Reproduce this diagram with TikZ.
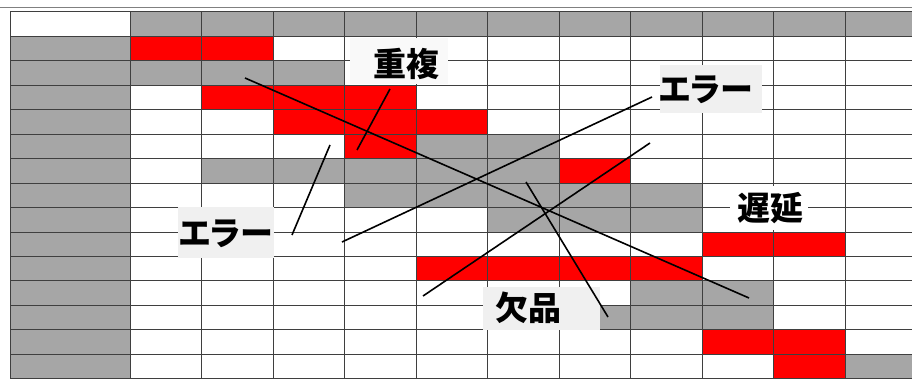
\documentclass[tikz,border=0pt]{standalone}
\usepackage{fontspec}
\newfontfamily\jpfont[RawFeature={+palt}]{Noto Sans CJK JP}
\definecolor{cellgray}{HTML}{A6A6A6}
\definecolor{cellred}{HTML}{FF0000}
\definecolor{gridline}{HTML}{3F3F3F}
\definecolor{labelbg}{HTML}{F0F0F0}
\newcommand\rowy[1]{12+#1*24.45}
\newcommand\colx[1]{130+(#1-1)*71.5}
\newcommand\cellfill[4]{\fill[#4] ({\colx{#2}},{\rowy{#1}}) rectangle ({\colx{#3}+71.5},{\rowy{#1}+24.45});}
\tikzset{
  lbl/.style={font=\jpfont\bfseries\fontsize{33}{36}\selectfont, inner sep=0pt, text=black},
  mark line/.style={black, line width=1.6pt},
  grid line/.style={gridline, line width=1pt}
}
\begin{document}
\begin{tikzpicture}[x=1pt,y=-1pt]
\useasboundingbox (0,0) rectangle (912,379);
\clip (0,0) rectangle (912,379);
% cells
\cellfill{0}{1}{11}{cellgray}
\fill[cellgray] (10,{\rowy{1}}) rectangle (130,{\rowy{15}});
\cellfill{1}{1}{2}{cellred}
\cellfill{2}{1}{3}{cellgray}
\cellfill{3}{2}{4}{cellred}
\cellfill{4}{3}{5}{cellred}
\cellfill{5}{4}{4}{cellred}
\cellfill{5}{5}{6}{cellgray}
\cellfill{6}{2}{6}{cellgray}
\cellfill{6}{7}{7}{cellred}
\cellfill{7}{4}{8}{cellgray}
\cellfill{8}{6}{8}{cellgray}
\cellfill{9}{9}{10}{cellred}
\cellfill{10}{5}{8}{cellred}
\cellfill{11}{8}{9}{cellgray}
\cellfill{12}{7}{9}{cellgray}
\cellfill{13}{9}{10}{cellred}
\cellfill{14}{10}{10}{cellred}
\cellfill{14}{11}{11}{cellgray}
% grid
\draw[gray, line width=0.8pt] (0,7) -- (912,7);
\foreach \i in {0,...,15} \draw[grid line] (10,{\rowy{\i}}) -- (912,{\rowy{\i}});
\draw[grid line] (10,{\rowy{0}}) -- (10,{\rowy{15}});
\foreach \k in {1,...,12} \draw[grid line] ({\colx{\k}},{\rowy{0}}) -- ({\colx{\k}},{\rowy{15}});
% label backgrounds
\fill[white!60!labelbg] (350,38) rectangle (448,84);
\fill[labelbg] (660,65) rectangle (762,113);
\fill[labelbg] (178,207) rectangle (274,258);
\fill[white] (730,186) rectangle (808,230);
\fill[labelbg] (483,287) rectangle (600,330);
% labels
\node[lbl] (dup) at (406,64) {重複};
\node[lbl] (errR) at (706,90) {エラー};
\node[lbl] (errL) at (226,234) {エラー};
\node[lbl] (delay) at (770,208) {遅延};
\node[lbl] (miss) at (528,308) {欠品};
% connector end points
\coordinate (a1) at (245,78);  \coordinate (a2) at (749,298);
\coordinate (b1) at (390,89);  \coordinate (b2) at (357,150);
\coordinate (c1) at (330,145); \coordinate (c2) at (292,235);
\coordinate (d1) at (342,242); \coordinate (d2) at (652,97);
\coordinate (e1) at (650,143); \coordinate (e2) at (423,296);
\coordinate (f1) at (526,182); \coordinate (f2) at (608,317);
\draw[mark line] (a1) -- (a2);
\draw[mark line] (b1) -- (b2);
\draw[mark line] (c1) -- (c2);
\draw[mark line] (d1) -- (d2);
\draw[mark line] (e1) -- (e2);
\draw[mark line] (f1) -- (f2);
\end{tikzpicture}
\end{document}
